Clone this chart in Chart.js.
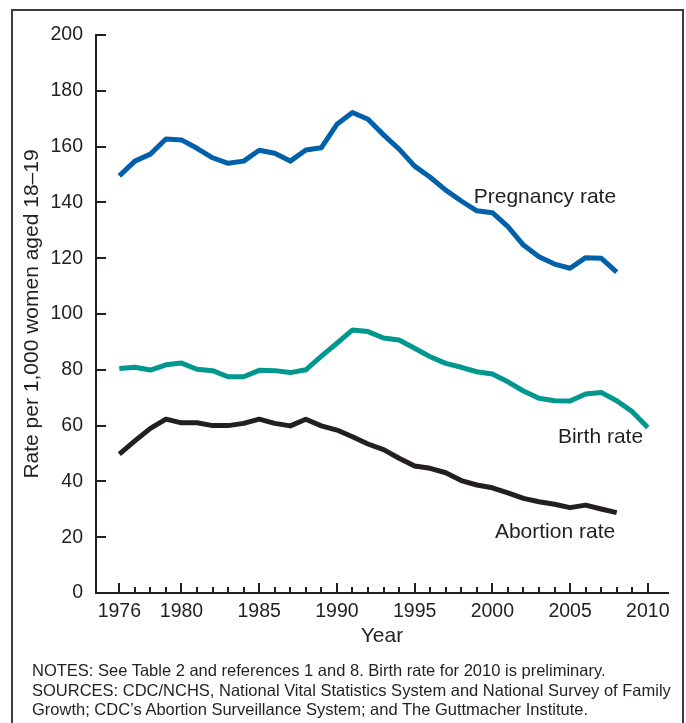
<!DOCTYPE html>
<html>
<head>
<meta charset="utf-8">
<script src="https://cdn.jsdelivr.net/npm/chart.js@4.4.1/dist/chart.umd.min.js"></script>
<style>
  html, body { margin: 0; padding: 0; background: #fff; overflow: hidden; }
  #wrap { position: relative; width: 686px; height: 723px; overflow: hidden; }
  #frame { position: absolute; left: 11px; top: 9px; width: 673px; height: 760px; border: 2px solid #3c3c3c; box-sizing: border-box; }
  #myChart { position: absolute; left: 0; top: 0; }
  #notes { position: absolute; left: 32px; top: 661px; font: 16.5px 'Liberation Sans', Arial, sans-serif; line-height: 19.5px; color: #231f20; white-space: nowrap; }
</style>
</head>
<body>
<div id="wrap">
  <div id="frame"></div>
  <canvas id="myChart" width="686" height="723"></canvas>
  <div id="notes">NOTES: See Table 2 and references 1 and 8. Birth rate for 2010 is preliminary.<br>SOURCES: CDC/NCHS, National Vital Statistics System and National Survey of Family<br>Growth; CDC’s Abortion Surveillance System; and The Guttmacher Institute.</div>
</div>
<script>
const years = [1976, 1977, 1978, 1979, 1980, 1981, 1982, 1983, 1984, 1985,
  1986, 1987, 1988, 1989, 1990, 1991, 1992, 1993, 1994, 1995,
  1996, 1997, 1998, 1999, 2000, 2001, 2002, 2003, 2004, 2005,
  2006, 2007, 2008, 2009, 2010];

// 1976-2008
const pregnancyRate = [149.5, 154.8, 157.3, 162.7, 162.4, 159.4, 156.0, 154.0, 154.8, 158.7,
  157.6, 154.8, 158.8, 159.6, 168.0, 172.2, 169.8, 164.2, 159.1, 153.0,
  149.0, 144.4, 140.5, 137.0, 136.3, 131.3, 124.7, 120.5, 117.9, 116.4,
  120.2, 120.0, 115.0];

// 1976-2010
const birthRate = [80.5, 80.9, 79.9, 81.8, 82.4, 80.2, 79.7, 77.5, 77.5, 79.8,
  79.7, 79.0, 80.0, 84.9, 89.5, 94.3, 93.7, 91.4, 90.7, 87.7,
  84.7, 82.3, 80.9, 79.3, 78.5, 75.7, 72.4, 69.8, 68.9, 68.8,
  71.3, 71.9, 68.9, 65.0, 59.3];

// 1976-2008
const abortionRate = [49.8, 54.5, 59.0, 62.3, 61.0, 61.0, 60.0, 60.0, 60.8, 62.3,
  60.8, 59.9, 62.3, 59.9, 58.4, 56.0, 53.4, 51.4, 48.3, 45.5,
  44.7, 43.1, 40.3, 38.7, 37.7, 35.9, 33.9, 32.7, 31.8, 30.6,
  31.5, 30.1, 28.8];

const labeledYears = [1976, 1980, 1985, 1990, 1995, 2000, 2005, 2010];
const seriesNames = ['Pregnancy rate', 'Birth rate', 'Abortion rate'];

const FONT = "'Liberation Sans', Arial, Helvetica, sans-serif";
const INK = '#231f20';

// where the series names sit, in data units
const nameSpots = [
  { x: 1998.8, y: 139.8, align: 'left' },
  { x: 2009.7, y: 53.8, align: 'right' },
  { x: 2007.9, y: 19.7, align: 'right' }
];

// ticks point into the plot, longer for labelled years
const inwardTicks = {
  id: 'inwardTicks',
  afterDatasetsDraw(chart) {
    const { ctx, scales: { x, y } } = chart;
    ctx.save();
    ctx.strokeStyle = INK;
    ctx.lineWidth = 2;
    ctx.beginPath();
    x.ticks.forEach(t => {
      const px = Math.round(x.getPixelForValue(t.value));
      const len = labeledYears.includes(t.value) ? 10 : 6;
      ctx.moveTo(px, x.top);
      ctx.lineTo(px, x.top - len);
    });
    y.ticks.forEach(t => {
      const py = Math.round(y.getPixelForValue(t.value));
      ctx.moveTo(y.right, py);
      ctx.lineTo(y.right + 10, py);
    });
    ctx.stroke();
    ctx.restore();
  }
};

const seriesLabels = {
  id: 'seriesLabels',
  afterDatasetsDraw(chart) {
    const { ctx, scales: { x, y } } = chart;
    ctx.save();
    ctx.fillStyle = INK;
    ctx.font = '21px ' + FONT;
    ctx.textBaseline = 'alphabetic';
    seriesNames.forEach((name, i) => {
      const spot = nameSpots[i];
      ctx.textAlign = spot.align;
      ctx.fillText(name, x.getPixelForValue(spot.x), y.getPixelForValue(spot.y));
    });
    ctx.restore();
  }
};

const lineStyle = {
  borderWidth: 5,
  pointRadius: 0,
  tension: 0,
  fill: false,
  borderJoinStyle: 'round',
  borderCapStyle: 'butt'
};

new Chart(document.getElementById('myChart'), {
  type: 'line',
  data: {
    labels: years,
    datasets: [
      { label: seriesNames[0], data: pregnancyRate, borderColor: '#0060a9', ...lineStyle },
      { label: seriesNames[1], data: birthRate, borderColor: '#00978f', ...lineStyle },
      { label: seriesNames[2], data: abortionRate, borderColor: INK, ...lineStyle }
    ]
  },
  options: {
    responsive: false,
    animation: false,
    layout: { padding: { top: 35, right: 18, left: 0, bottom: 0 } },
    plugins: {
      legend: { display: false },
      tooltip: { enabled: false }
    },
    scales: {
      x: {
        type: 'linear',
        min: 1974.5,
        max: 2011.3,
        afterBuildTicks: s => { s.ticks = years.map(v => ({ value: v })); },
        afterFit: s => { s.height = 130; },
        grid: { drawOnChartArea: false, drawTicks: false },
        border: { display: true, width: 2, color: INK },
        ticks: {
          autoSkip: false,
          maxRotation: 0,
          padding: 7,
          color: INK,
          font: { family: FONT, size: 19.5 },
          callback: v => labeledYears.includes(v) ? String(v) : ''
        },
        title: {
          display: true,
          text: 'Year',
          color: INK,
          font: { family: FONT, size: 21 },
          padding: { top: 0, bottom: 74 }
        }
      },
      y: {
        min: 0,
        max: 200,
        afterFit: s => { s.width = 96; },
        grid: { drawOnChartArea: false, drawTicks: false },
        border: { display: true, width: 2, color: INK },
        ticks: {
          stepSize: 20,
          padding: 13,
          color: INK,
          font: { family: FONT, size: 19.5 }
        },
        title: {
          display: true,
          text: 'Rate per 1,000 women aged 18–19',
          color: INK,
          font: { family: FONT, size: 21 },
          padding: { top: 20, bottom: 0 }
        }
      }
    }
  },
  plugins: [inwardTicks, seriesLabels]
});
</script>
</body>
</html>
